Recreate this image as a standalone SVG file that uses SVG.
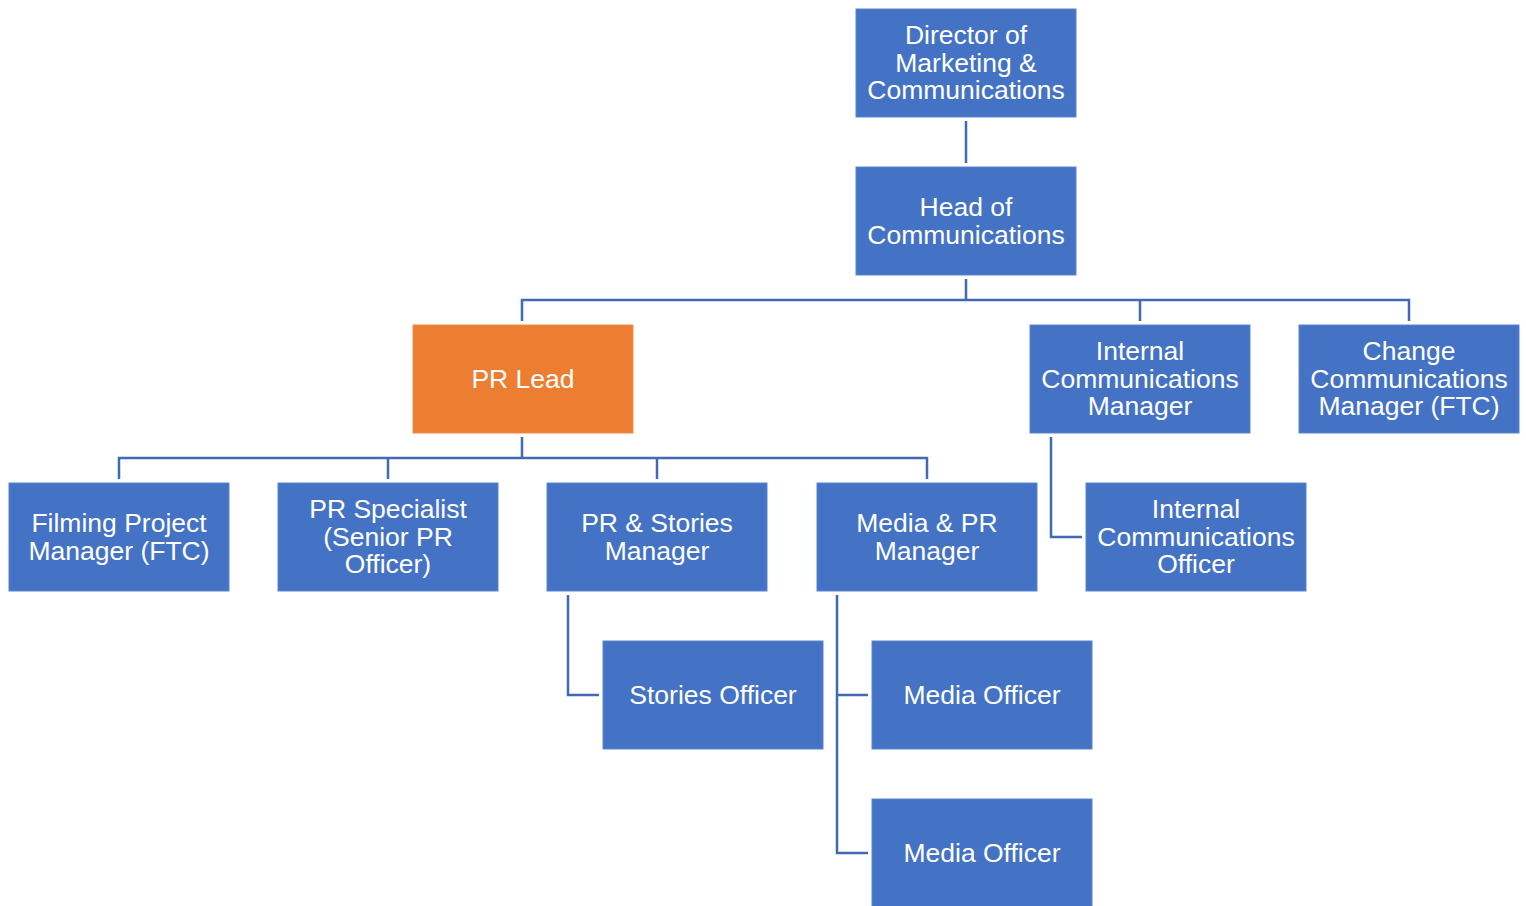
<svg xmlns="http://www.w3.org/2000/svg" width="1526" height="906" viewBox="0 0 1526 906">
<style>
.b{fill:#4472C4;stroke:#5A86D0;stroke-width:1}
.o{fill:#ED7D31;stroke:#F08D4E;stroke-width:1}
text{font-family:"Liberation Sans",Arial,sans-serif;font-size:26.5px;fill:#FFFFFF;text-anchor:middle}
.c{fill:none;stroke:#4169B4;stroke-width:2.5}
</style>
<rect width="1526" height="906" fill="#FFFFFF"/>
<g id="connectors">
<path class="c" d="M966 121V163"/>
<path class="c" d="M966 279V300M522 321V300H1409V321M1140 300V321"/>
<path class="c" d="M522 437V458M119 479V458H927V479M388 458V479M657 458V479"/>
<path class="c" d="M1051 437V537H1082"/>
<path class="c" d="M568 595V695H599"/>
<path class="c" d="M837 595V853H868M837 695H868"/>
</g>
<g id="director"><rect class="b" x="856" y="9" width="220" height="108"/><text x="966" y="44">Director of</text><text x="966" y="71.5">Marketing &amp;</text><text x="966" y="99">Communications</text></g>
<g id="head"><rect class="b" x="856" y="167" width="220" height="108"/><text x="966" y="216">Head of</text><text x="966" y="243.5">Communications</text></g>
<g id="prlead"><rect class="o" x="413" y="325" width="220" height="108"/><text x="523" y="387.5">PR Lead</text></g>
<g id="icm"><rect class="b" x="1030" y="325" width="220" height="108"/><text x="1140" y="360">Internal</text><text x="1140" y="387.5">Communications</text><text x="1140" y="415">Manager</text></g>
<g id="ccm"><rect class="b" x="1299" y="325" width="220" height="108"/><text x="1409" y="360">Change</text><text x="1409" y="387.5">Communications</text><text x="1409" y="415">Manager (FTC)</text></g>
<g id="filming"><rect class="b" x="9" y="483" width="220" height="108"/><text x="119" y="532">Filming Project</text><text x="119" y="559.5">Manager (FTC)</text></g>
<g id="prspec"><rect class="b" x="278" y="483" width="220" height="108"/><text x="388" y="518">PR Specialist</text><text x="388" y="545.5">(Senior PR</text><text x="388" y="573">Officer)</text></g>
<g id="prstories"><rect class="b" x="547" y="483" width="220" height="108"/><text x="657" y="532">PR &amp; Stories</text><text x="657" y="559.5">Manager</text></g>
<g id="mediapr"><rect class="b" x="817" y="483" width="220" height="108"/><text x="927" y="532">Media &amp; PR</text><text x="927" y="559.5">Manager</text></g>
<g id="ico"><rect class="b" x="1086" y="483" width="220" height="108"/><text x="1196" y="518">Internal</text><text x="1196" y="545.5">Communications</text><text x="1196" y="573">Officer</text></g>
<g id="stories"><rect class="b" x="603" y="641" width="220" height="108"/><text x="713" y="703.5">Stories Officer</text></g>
<g id="media1"><rect class="b" x="872" y="641" width="220" height="108"/><text x="982" y="703.5">Media Officer</text></g>
<g id="media2"><rect class="b" x="872" y="799" width="220" height="108"/><text x="982" y="861.5">Media Officer</text></g>
</svg>
